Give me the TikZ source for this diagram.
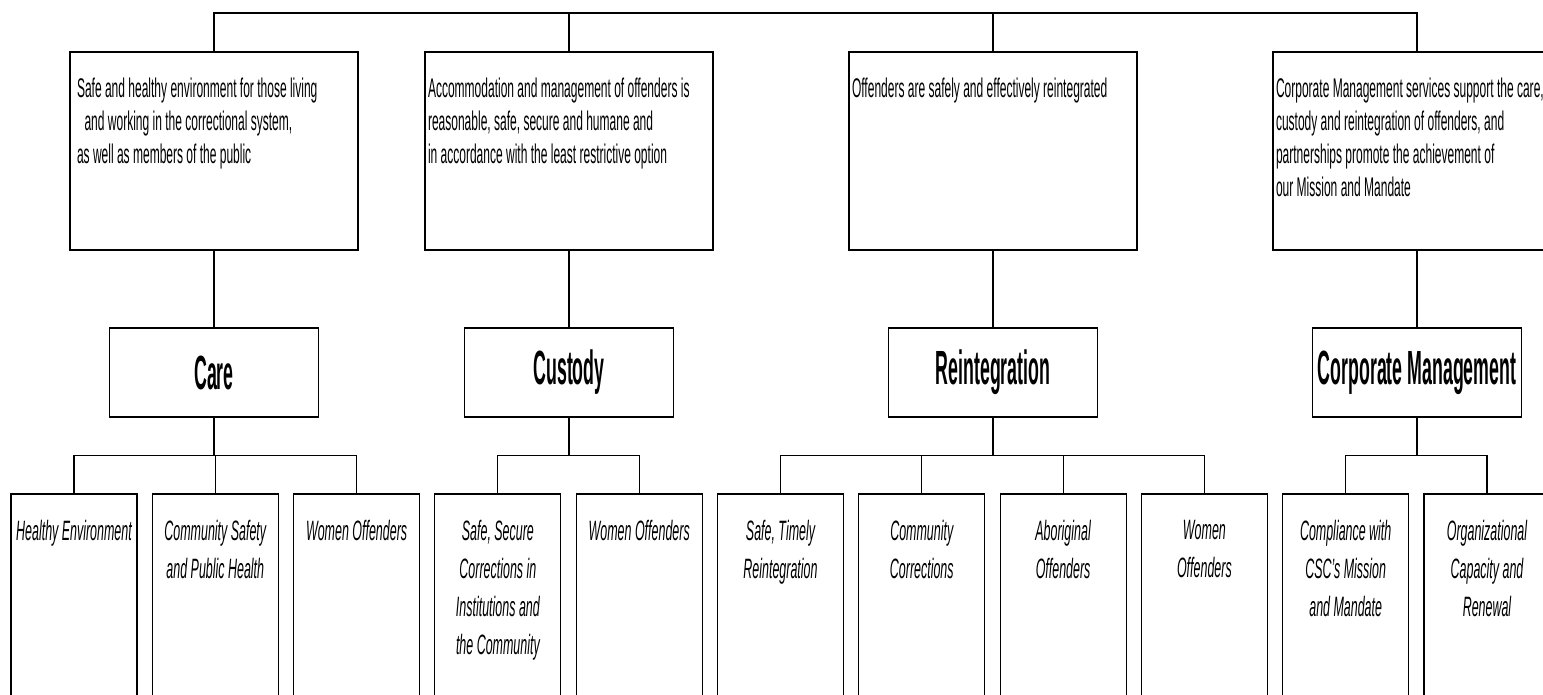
\documentclass[tikz,border=0pt]{standalone}
\usepackage{fontspec}
\setmainfont{Liberation Sans}[FakeStretch=0.445]
\newfontfamily\headfont{Liberation Sans}[FakeStretch=0.37]
\usetikzlibrary{positioning}

\begin{document}
\begin{tikzpicture}[
  x=1pt, y=-1pt, line width=1.1pt,
  goal/.style={draw, minimum width=288pt, minimum height=198pt, inner sep=0pt},
  goaltext/.style={align=left, inner sep=0pt, font=\fontsize{27}{33}\selectfont},
  area/.style={draw, minimum width=209pt, minimum height=89pt, inner sep=0pt,
    font=\headfont\bfseries\fontsize{48}{54}\selectfont},
  leaf/.style={draw, minimum width=126pt, minimum height=230pt, inner sep=0pt},
  leaftext/.style={align=center, inner sep=0pt, font=\itshape\fontsize{28}{38}\selectfont}]

\useasboundingbox (0,0) rectangle (1543,694);
\fill[white] (0,0) rectangle (1543,694);

% strategic outcomes
\node[goal] (g1) at (214,151) {};
\node[goal] (g2) at (569,151) {};
\node[goal] (g3) at (993,151) {};
\node[goal] (g4) at (1417,151) {};

\node[goaltext, below right=26pt and 7pt of g1.north west] (g1t)
  {Safe and healthy environment for those living\\
   \hspace*{0.28em}and working in the correctional system,\\
   as well as members of the public};
\node[goaltext, below right=26pt and 3pt of g2.north west] (g2t)
  {Accommodation and management of offenders is\\
   reasonable, safe, secure and humane and\\
   in accordance with the least restrictive option};
\node[goaltext, below right=26pt and 3pt of g3.north west] (g3t)
  {Offenders are safely and effectively reintegrated};
\node[goaltext, below right=26pt and 3pt of g4.north west] (g4t)
  {Corporate Management services support the care,\\
   custody and reintegration of offenders, and\\
   partnerships promote the achievement of\\
   our Mission and Mandate};

% program activities
\node[area] (care) at (214,372.5) {Care};
\node[area] (custody) at (569,372.5) {Custody};
\node[area] (reint) at (993,372.5) {Reintegration};
\node[area] (corp) at (1417,372.5) {Corporate Management};

% sub-activities
\node[leaf] (b1) at (74,609) {};
\node[leaf] (b2) at (215.3,609) {};
\node[leaf] (b3) at (356.6,609) {};
\node[leaf] (b4) at (497.9,609) {};
\node[leaf] (b5) at (639.2,609) {};
\node[leaf] (b6) at (780.5,609) {};
\node[leaf] (b7) at (921.8,609) {};
\node[leaf] (b8) at (1063.1,609) {};
\node[leaf] (b9) at (1204.4,609) {};
\node[leaf] (b10) at (1345.7,609) {};
\node[leaf] (b11) at (1487,609) {};

\node[leaftext, below=26pt of b1.north] (b1t) {Healthy Environment};
\node[leaftext, below=26pt of b2.north] (b2t) {Community Safety\\and Public Health};
\node[leaftext, below=26pt of b3.north] (b3t) {Women Offenders};
\node[leaftext, below=26pt of b4.north] (b4t)
  {Safe, Secure\\Corrections in\\Institutions and\\the Community};
\node[leaftext, below=26pt of b5.north] (b5t) {Women Offenders};
\node[leaftext, below=26pt of b6.north] (b6t) {Safe, Timely\\Reintegration};
\node[leaftext, below=26pt of b7.north] (b7t) {Community\\Corrections};
\node[leaftext, below=26pt of b8.north] (b8t) {Aboriginal\\Offenders};
\node[leaftext, below=26pt of b9.north] (b9t) {Women\\Offenders};
\node[leaftext, below=26pt of b10.north] (b10t)
  {Compliance with\\CSC's Mission\\and Mandate};
\node[leaftext, below=26pt of b11.north] (b11t)
  {Organizational\\Capacity and\\Renewal};

% connectors
\coordinate (top) at (815,13);
\draw (g1.north) |- (top) -| (g4.north);
\draw (g2.north) -- (g2.north |- top);
\draw (g3.north) -- (g3.north |- top);

\draw (g1) -- (care);
\draw (g2) -- (custody);
\draw (g3) -- (reint);
\draw (g4) -- (corp);

\draw (care.south) -- ++(0,38) coordinate (f1);
\draw (f1) -| (b1.north) (f1) -| (b2.north) (f1) -| (b3.north);
\draw (custody.south) -- ++(0,38) coordinate (f2);
\draw (f2) -| (b4.north) (f2) -| (b5.north);
\draw (reint.south) -- ++(0,38) coordinate (f3);
\draw (f3) -| (b6.north) (f3) -| (b7.north) (f3) -| (b8.north) (f3) -| (b9.north);
\draw (corp.south) -- ++(0,38) coordinate (f4);
\draw (f4) -| (b10.north) (f4) -| (b11.north);
\end{tikzpicture}
\end{document}
